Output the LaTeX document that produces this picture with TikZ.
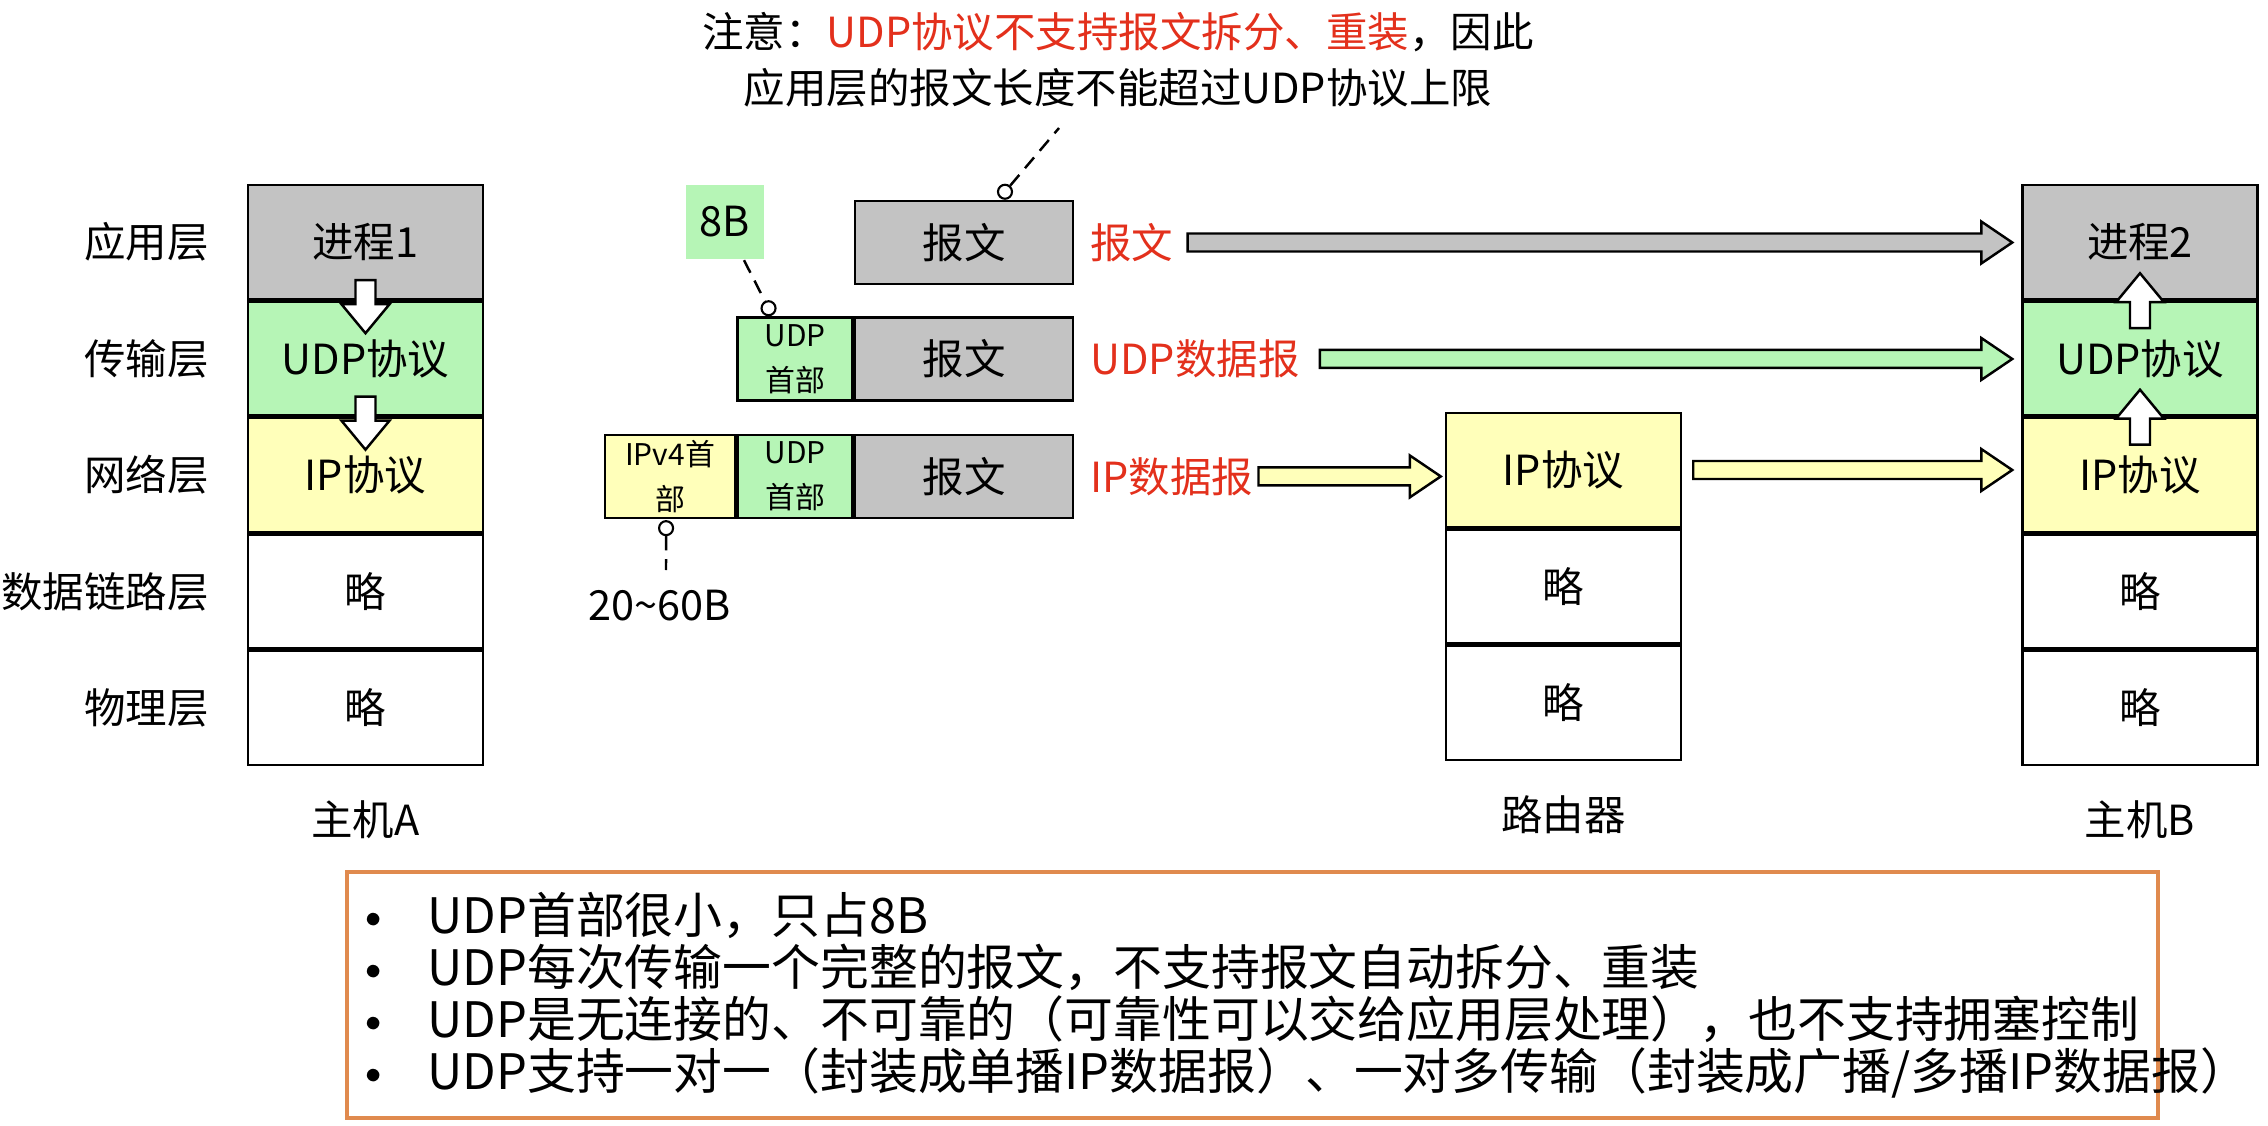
\documentclass[tikz,border=0pt]{standalone}
\usepackage{fontspec}
\setmainfont{Noto Sans CJK SC}
\usetikzlibrary{positioning,calc}

\definecolor{msggray}{HTML}{C3C3C3}
\definecolor{udpgreen}{HTML}{B6F5B6}
\definecolor{ipyellow}{HTML}{FFFFBA}
\definecolor{notered}{HTML}{E3301C}
\definecolor{boxorange}{HTML}{E08A4E}

% block arrow to the right: fill, from, to
\newcommand{\hfat}[3]{%
  \draw[fill=#1,line join=miter] let \p1=(#2), \p2=(#3) in
    (\x1,{\y1+0.09cm}) -- ({\x2-0.31cm},{\y1+0.09cm}) -- ({\x2-0.31cm},{\y1+0.21cm}) -- (\x2,\y1)
    -- ({\x2-0.31cm},{\y1-0.21cm}) -- ({\x2-0.31cm},{\y1-0.09cm}) -- (\x1,{\y1-0.09cm}) -- cycle;}
% vertical block arrow: from, to, offset of the head base
\newcommand{\vfat}[3]{%
  \draw[fill=white,line join=miter] let \p1=(#1), \p2=(#2) in
    ({\x1-0.10cm},\y1) -- ({\x1-0.10cm},{\y2#3}) -- ({\x1-0.24cm},{\y2#3}) -- (\x1,\y2)
    -- ({\x1+0.24cm},{\y2#3}) -- ({\x1+0.10cm},{\y2#3}) -- ({\x1+0.10cm},\y1) -- cycle;}
\newcommand{\pointmark}{\makebox[0.62cm][l]{\raisebox{0.12em}{\fontsize{9}{9}\selectfont$\bullet$}}}

\begin{document}
\begin{tikzpicture}[node distance=0pt,line width=0.7pt,
    layer/.style={rectangle,draw,minimum width=2.35cm,minimum height=1.14cm,inner sep=0pt,font=\fontsize{11.8}{14}\selectfont},
    seg/.style={rectangle,draw,minimum height=0.83cm,inner sep=0pt,font=\fontsize{11.8}{14}\selectfont},
    small/.style={font=\fontsize{8.5}{12.8}\selectfont,align=center},
    tag/.style={inner sep=0pt,font=\fontsize{11.8}{14}\selectfont,text=notered},
    side/.style={inner sep=0pt,anchor=east,font=\fontsize{11.8}{14}\selectfont},
    hostname/.style={inner sep=0pt,text height=0.33cm,text depth=0.07cm,font=\fontsize{11.8}{14}\selectfont},
    ring/.style={circle,draw,fill=white,minimum size=0.14cm,inner sep=0pt,line width=0.6pt},
    leader/.style={dash pattern=on 4pt off 2.5pt,line width=0.7pt}]
    \useasboundingbox (0,0) rectangle (22.68,-11.26);

    % host A
    \node[layer,fill=msggray] (a1) at (3.655,-2.42) {进程1};
    \node[layer,fill=udpgreen,below=of a1] (a2) {UDP协议};
    \node[layer,fill=ipyellow,below=of a2] (a3) {IP协议};
    \node[layer,below=of a3] (a4) {略};
    \node[layer,below=of a4] (a5) {略};
    \node[side] (n1) at ($(a1.west)+(-0.37,0)$) {应用层};
    \node[side] (n2) at ($(a2.west)+(-0.37,0)$) {传输层};
    \node[side] (n3) at ($(a3.west)+(-0.37,0)$) {网络层};
    \node[side] (n4) at ($(a4.west)+(-0.37,0)$) {数据链路层};
    \node[side] (n5) at ($(a5.west)+(-0.37,0)$) {物理层};
    \node[hostname] (hostA) at ($(a5.south)+(0,-0.56)$) {主机A};

    % router
    \node[layer,fill=ipyellow] (r1) at (15.635,-4.70) {IP协议};
    \node[layer,below=of r1] (r2) {略};
    \node[layer,below=of r2] (r3) {略};
    \node[hostname] (router) at ($(r3.south)+(0,-0.56)$) {路由器};

    % host B
    \node[layer,fill=msggray] (b1) at (21.40,-2.42) {进程2};
    \node[layer,fill=udpgreen,below=of b1] (b2) {UDP协议};
    \node[layer,fill=ipyellow,below=of b2] (b3) {IP协议};
    \node[layer,below=of b3] (b4) {略};
    \node[layer,below=of b4] (b5) {略};
    \node[hostname] (hostB) at ($(b5.south)+(0,-0.56)$) {主机B};

    % packets
    \node[seg,fill=msggray,minimum width=2.18cm] (m1) at (9.64,-2.425) {报文};
    \node[seg,fill=msggray,minimum width=2.18cm,below=0.31cm of m1] (m2) {报文};
    \node[seg,fill=udpgreen,minimum width=1.15cm,left=of m2,small] (u2) {UDP\\首部};
    \node[seg,fill=msggray,minimum width=2.18cm,below=0.32cm of m2] (m3) {报文};
    \node[seg,fill=udpgreen,minimum width=1.15cm,left=of m3,small] (u3) {UDP\\首部};
    \node[seg,fill=ipyellow,minimum width=1.30cm,left=of u3,small] (h3) {IPv4首\\部};
    \node[tag,right=0.15cm of m1] (t1) {报文};
    \node[tag,right=0.15cm of m2] (t2) {UDP数据报};
    \node[tag,right=0.15cm of m3] (t3) {IP数据报};

    \hfat{msggray}{$(t1.east)+(0.13,0)$}{$(b1.west)+(-0.09,0)$}
    \hfat{udpgreen}{$(t2.east)+(0.19,0)$}{$(b2.west)+(-0.09,0)$}
    \hfat{ipyellow}{$(t3.east)+(0.04,0)$}{$(r1.west)+(-0.04,0)$}
    \hfat{ipyellow}{$(r1.east)+(0.11,0)$}{$(b3.west)+(-0.09,0)$}

    \vfat{$(a1.south)+(0,0.2)$}{$(a1.south)+(0,-0.33)$}{+0.29cm}
    \vfat{$(a2.south)+(0,0.2)$}{$(a2.south)+(0,-0.33)$}{+0.29cm}
    \vfat{$(b2.north)+(0,-0.28)$}{$(b2.north)+(0,0.27)$}{-0.29cm}
    \vfat{$(b3.north)+(0,-0.28)$}{$(b3.north)+(0,0.27)$}{-0.29cm}

    % remarks
    \node[inner sep=0pt,align=center,font=\fontsize{11.8}{15.9}\selectfont] (note) at (11.18,-0.60)
      {注意：\textcolor{notered}{UDP协议不支持报文拆分、重装}，因此\\应用层的报文长度不能超过UDP协议上限};
    \node[ring] (d1) at ($(m1.north)+(0.41,0.08)$) {};
    \coordinate (noteend) at (10.59,-1.28);
    \draw[leader] (d1) -- (noteend);

    \node[fill=udpgreen,minimum width=0.78cm,minimum height=0.74cm,inner sep=0pt,font=\fontsize{11.8}{14}\selectfont] (size8) at (7.25,-2.22) {8B};
    \node[ring] (d2) at ($(u2.north)+(-0.265,0.08)$) {};
    \draw[leader] ($(size8.south)+(0.19,0)$) -- (d2);

    \node[ring] (d3) at ($(h3.south)+(-0.04,-0.09)$) {};
    \node[hostname] (range) at (6.60,-6.07) {20\textasciitilde 60B};
    \coordinate (rangetop) at (6.66,-5.70);
    \draw[leader] (d3) -- (rangetop);

    % summary
    \node[draw=boxorange,line width=1pt,minimum width=18.11cm,minimum height=2.46cm,inner sep=0pt] (summary) at (12.525,-9.95) {};
    \node[anchor=west,align=left,inner sep=0pt,font=\fontsize{13.9}{14.8}\selectfont] (points) at ($(summary.west)+(0.19,0)$)
      {\pointmark UDP首部很小，只占8B\\
       \pointmark UDP每次传输一个完整的报文，不支持报文自动拆分、重装\\
       \pointmark UDP是无连接的、不可靠的（可靠性可以交给应用层处理），也不支持拥塞控制\\
       \pointmark UDP支持一对一（封装成单播IP数据报）、一对多传输（封装成广播/多播IP数据报）};
\end{tikzpicture}
\end{document}
